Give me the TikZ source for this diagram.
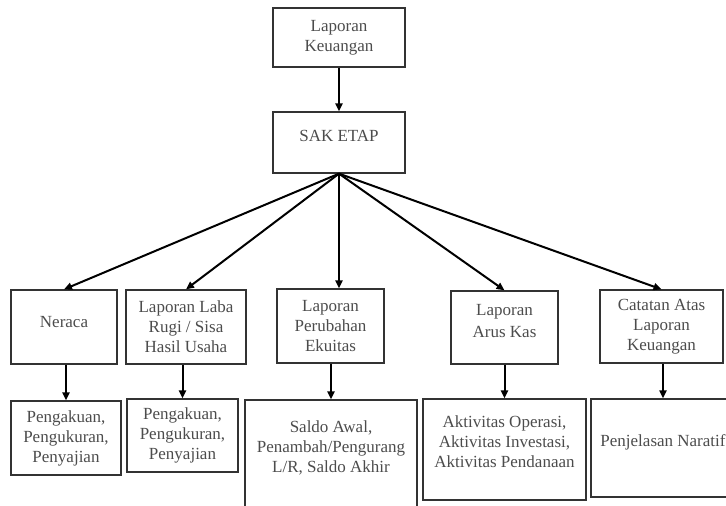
\documentclass[tikz,border=0pt]{standalone}
\usepackage{fontspec}
\setmainfont{Liberation Serif}
\usetikzlibrary{arrows.meta}

\tikzset{
    box/.style={draw=black!80, line width=1.3pt, align=center, inner sep=0pt,
        text=black!70, font=\fontsize{17}{20}\selectfont},
    txt/.style={align=center, inner sep=0pt, text=black!70,
        font=\fontsize{17}{20}\selectfont},
    arr/.style={-{Triangle[length=8pt,width=7pt]}, line width=2pt, black}
}

\begin{document}
\begin{tikzpicture}[x=1pt, y=-1pt]
    \useasboundingbox (0,0) rectangle (726,506);
    % Top of the chart
    \node[box, minimum width=132pt, minimum height=59pt] (lapkeu) at (339,37.5) {Laporan\\Keuangan};
    \node[box, minimum width=132pt, minimum height=61pt] (sak) at (339,142.5) {SAK ETAP\\[-6pt]};
    % Second row: the statements
    \node[box, minimum width=106pt, minimum height=74pt] (neraca) at (64,327) {Neraca\\[-10pt]};
    \node[box, minimum width=120pt, minimum height=74pt] (laba) at (186,327) {Laporan Laba\\Rugi / Sisa\\Hasil Usaha};
    \node[box, minimum width=107pt, minimum height=74pt] (ekuitas) at (330.5,326) {Laporan\\Perubahan\\Ekuitas};
    \node[box, minimum width=107pt, minimum height=73pt] (arus) at (504.5,327.5) {Laporan\\[2pt]Arus Kas\\[-7pt]};
    \node[box, minimum width=123pt, minimum height=73pt] (catatan) at (661.5,326.5) {Catatan Atas\\Laporan\\Keuangan};
    % Third row: contents
    \node[box, minimum width=110pt, minimum height=74pt] (neracaSub) at (66,438) {Pengakuan,\\Pengukuran,\\Penyajian};
    \node[box, minimum width=111pt, minimum height=73pt] (labaSub) at (182.5,435.5) {Pengakuan,\\Pengukuran,\\Penyajian};
    \node[box, minimum width=172pt, minimum height=112pt] (ekuitasSub) at (331,456) {};
    \node[txt] (ekuitasTxt) at (331,448) {Saldo Awal,\\Penambah/Pengurang\\L/R, Saldo Akhir};
    \node[box, minimum width=163pt, minimum height=101pt] (arusSub) at (504.5,449.5) {};
    \node[txt] (arusTxt) at (504.5,442) {Aktivitas Operasi,\\Aktivitas Investasi,\\Aktivitas Pendanaan};
    \node[box, minimum width=144pt, minimum height=98pt] (catatanSub) at (663,448) {};
    \node[txt] (catatanTxt) at (663,442) {Penjelasan Naratif};
    % Arrows
    \draw[arr] (lapkeu) -- (sak);
    \draw[arr] (sak.south) -- (neraca.north);
    \draw[arr] (sak.south) -- (laba.north);
    \draw[arr] (sak.south) -- (sak.south |- ekuitas.north);
    \draw[arr] (sak.south) -- (arus.north);
    \draw[arr] (sak.south) -- (catatan.north);
    \draw[arr] (neracaSub.north |- neraca.south) -- (neracaSub.north);
    \draw[arr] (labaSub.north |- laba.south) -- (labaSub.north);
    \draw[arr] (ekuitasSub.north |- ekuitas.south) -- (ekuitasSub.north);
    \draw[arr] (arusSub.north |- arus.south) -- (arusSub.north);
    \draw[arr] (catatanSub.north |- catatan.south) -- (catatanSub.north);
\end{tikzpicture}
\end{document}
